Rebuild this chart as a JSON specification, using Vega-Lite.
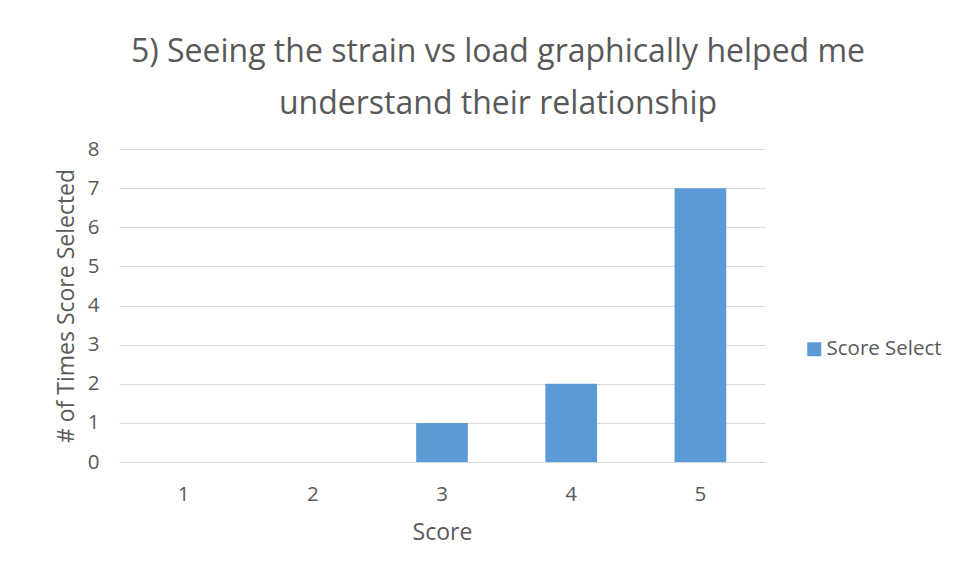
{
  "$schema": "https://vega.github.io/schema/vega-lite/v6.json",
  "autosize": "none",
  "width": 646,
  "height": 313,
  "padding": {"left": 119, "top": 149, "right": 195, "bottom": 116},
  "background": "white",
  "title": {
    "text": ["5) Seeing the strain vs load graphically helped me", "understand their relationship"],
    "anchor": "middle",
    "frame": "group",
    "dx": 56,
    "offset": 18,
    "font": "Open Sans",
    "fontSize": 32,
    "fontWeight": "normal",
    "color": "#595959",
    "lineHeight": 52
  },
  "data": {
    "values": [
      {"score": "1", "count": 0, "series": "Score Select"},
      {"score": "2", "count": 0, "series": "Score Select"},
      {"score": "3", "count": 1, "series": "Score Select"},
      {"score": "4", "count": 2, "series": "Score Select"},
      {"score": "5", "count": 7, "series": "Score Select"}
    ]
  },
  "mark": {"type": "bar"},
  "encoding": {
    "x": {
      "field": "score",
      "type": "ordinal",
      "scale": {"paddingInner": 0.6, "paddingOuter": 0.3},
      "axis": {
        "title": "Score",
        "labelAngle": 0,
        "ticks": false,
        "domain": true,
        "domainColor": "#D9D9D9",
        "labelPadding": 22,
        "titlePadding": 17,
        "labelFont": "Open Sans",
        "labelFontSize": 20.5,
        "labelColor": "#595959",
        "titleFont": "Open Sans",
        "titleFontSize": 23,
        "titleFontWeight": "normal",
        "titleColor": "#595959"
      }
    },
    "y": {
      "field": "count",
      "type": "quantitative",
      "scale": {"domain": [0, 8]},
      "axis": {
        "title": "# of Times Score Selected",
        "values": [0, 1, 2, 3, 4, 5, 6, 7, 8],
        "labelOverlap": false,
        "ticks": false,
        "domain": false,
        "grid": true,
        "gridColor": "#D9D9D9",
        "gridWidth": 1,
        "labelPadding": 20,
        "titlePadding": 9,
        "labelFont": "Open Sans",
        "labelFontSize": 20.5,
        "labelColor": "#595959",
        "titleFont": "Open Sans",
        "titleFontSize": 23,
        "titleFontWeight": "normal",
        "titleColor": "#595959"
      }
    },
    "color": {
      "field": "series",
      "type": "nominal",
      "scale": {"range": ["#5B9BD5"]},
      "legend": {
        "title": null,
        "orient": "none",
        "legendX": 685,
        "legendY": 190,
        "symbolType": "square",
        "symbolSize": 196,
        "symbolStrokeWidth": 0,
        "labelFont": "Open Sans",
        "labelFontSize": 20.5,
        "labelColor": "#595959",
        "labelOffset": 2
      }
    }
  },
  "config": {
    "view": {"stroke": null}
  }
}
